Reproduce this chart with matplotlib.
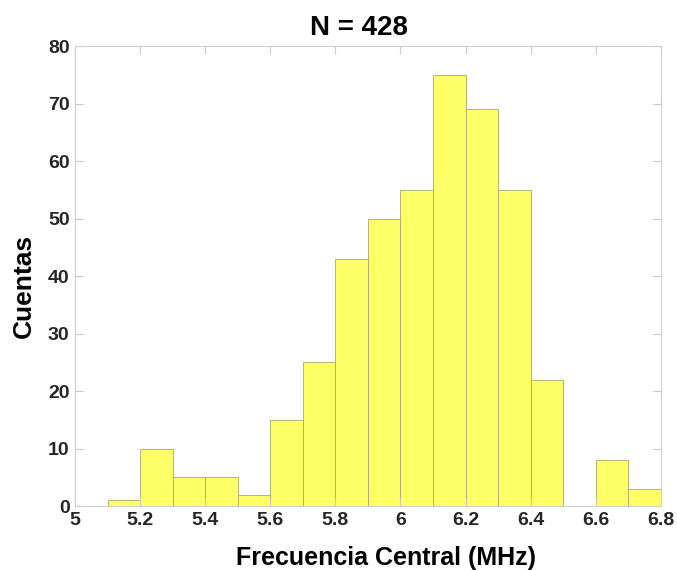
import numpy as np
import matplotlib.pyplot as plt

# histogram bins (MHz) and counts
bin_edges = [5.1, 5.2, 5.3, 5.4, 5.5, 5.6, 5.7, 5.8, 5.9, 6.0,
             6.1, 6.2, 6.3, 6.4, 6.5, 6.6, 6.7, 6.8]
counts = [1, 10, 5, 5, 2, 15, 25, 43, 50, 55, 75, 69, 55, 22, 0, 8, 3]
x_ticks = [5, 5.2, 5.4, 5.6, 5.8, 6, 6.2, 6.4, 6.6, 6.8]
x_tick_labels = ['5', '5.2', '5.4', '5.6', '5.8', '6', '6.2', '6.4', '6.6', '6.8']
y_ticks = [0, 10, 20, 30, 40, 50, 60, 70, 80]
title = 'N = 428'

plt.rcParams['font.family'] = ['Liberation Sans', 'DejaVu Sans']

fig = plt.figure(figsize=(6.77, 5.70), dpi=100)
ax = fig.add_axes([0.111, 0.112, 0.865, 0.807])

edges = np.array(bin_edges)
ax.bar(edges[:-1], counts, width=np.diff(edges), align='edge',
       color='#ffff66', edgecolor='#a8a870', linewidth=0.6)

ax.set_xlim(5, 6.8)
ax.set_ylim(0, 80)
ax.set_xticks(x_ticks)
ax.set_xticklabels(x_tick_labels)
ax.set_yticks(y_ticks)

# MATLAB-like box with light gray inward ticks
for side in ['top', 'bottom', 'left', 'right']:
    ax.spines[side].set_color('#d0d0d0')
    ax.spines[side].set_linewidth(0.8)
ax.tick_params(direction='in', length=6, width=0.8, color='#c8c8c8',
               top=True, right=True, labelsize=14, pad=4)
for lbl in ax.get_xticklabels() + ax.get_yticklabels():
    lbl.set_fontweight('bold')
    lbl.set_color('#262626')

ax.set_title(title, fontsize=20, fontweight='bold', x=0.484, y=1.024, pad=0)
ax.set_xlabel('Frecuencia Central (MHz)', fontsize=18, fontweight='bold')
ax.set_ylabel('Cuentas', fontsize=19, fontweight='bold')
ax.xaxis.label.set_va('center')
ax.yaxis.label.set_va('center')
ax.xaxis.set_label_coords(0.531, -0.113)
ax.yaxis.set_label_coords(-0.087, 0.478)

fig.savefig('out.png', dpi=100, facecolor='white')
